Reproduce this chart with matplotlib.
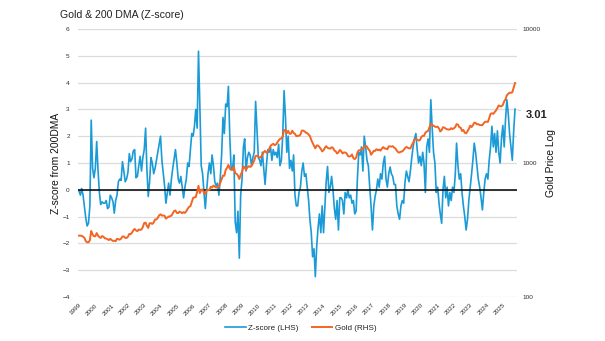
"""Gold & 200 DMA z-score chart
"""
import numpy as np
import pandas as pd
import matplotlib
matplotlib.use('Agg')
import matplotlib.pyplot as plt
from matplotlib.lines import Line2D

plt.rcParams['font.family'] = ['Liberation Sans', 'DejaVu Sans']

start_month = '1999-01-01'

# monthly z-score of gold vs its 200 day moving average
z_score = [
	-0.05, -0.2, 0.05, -0.2, -0.62, -1.05, -1.35, -1.25, -0.6, 2.6, 0.8, 0.45,
	0.8, 1.8, 0.75, -0.1, -0.55, -0.45, -0.5, -0.5, -0.4, -0.7, -0.65, -0.2,
	-0.3, -0.45, -0.87, -0.4, -0.2, 0.3, 0.4, 0.35, 1.05, 0.7, 0.3, 0.4,
	0.65, 1.35, 1.05, 1.15, 1.45, 1.5, 0.45, 0.5, 0.9, 1.25, 0.7, 1.2,
	1.5, 2.3, 0.8, -0.25, 0.3, 1.2, 1.0, 0.6, 0.8, 1.1, 1.4, 1.7,
	2.0, 1.1, 0.65, 0.15, -0.5, -0.12, 0.25, -0.2, 0.4, 0.8, 1.15, 1.5,
	1.0, 0.4, 0.25, 0.5, 0.1, -0.3, 0.1, 0.4, 1.0, 0.87, 1.5, 2.1,
	2.0, 2.4, 3.0, 2.3, 5.17, 3.1, 0.9, 0.6, -0.1, -0.7, 0.0, 0.6,
	1.0, 0.6, 1.3, 0.9, 0.3, 0.15, 0.25, -0.2, 0.45, 1.3, 2.7, 2.1,
	3.2, 3.1, 3.86, 2.0, 0.8, 0.75, 1.3, -1.2, -1.6, -0.8, -2.55, -0.2,
	0.4, 1.6, 1.9, 0.7, 1.2, 1.4, 1.3, 0.9, 1.2, 1.4, 3.3, 2.3,
	1.2, 1.1, 0.9, 1.4, 0.8, 0.2, 0.9, 1.5, 1.4, 1.6, 1.1, 1.5,
	1.3, 1.4, 1.2, 1.7, 0.9, 1.1, 2.0, 3.7, 2.7, 1.4, 2.0, 0.8,
	1.1, 0.7, 1.3, -0.2, -0.6, -0.6, -0.1, 0.1, 0.7, 1.0, 0.5, 0.6,
	0.1, -0.4, -1.1, -1.6, -2.5, -2.2, -3.24, -2.1, -1.4, -0.9, -1.6, -0.6,
	-1.6, -0.6, 0.3, 0.87, -0.1, 0.1, 0.5, 0.0, -0.7, -1.1, -0.4, -1.5,
	-0.3, -0.3, -0.4, -0.9, -0.1, -0.3, 0.0, -0.3, -0.2, -0.5, -0.4, -0.9,
	-0.8, 0.5, 1.4, 1.3, 1.6, 0.7, 2.0, 1.6, 1.1, 0.9, 0.1, -0.6,
	-1.5, -0.6, -0.25, 0.0, 0.4, 0.1, 0.6, 0.4, 1.0, 1.25, 0.4, 0.1,
	0.6, 0.85, 0.6, 0.5, 0.2, 0.2, -0.6, -0.9, -1.1, -0.6, -0.4, -0.5,
	0.3, 0.7, 0.5, 0.3, 0.7, 1.2, 1.6, 1.9, 2.1, 1.5, 1.0, 1.25,
	0.9, 1.4, 1.0, -0.1, 1.6, 1.9, 1.4, 3.36, 2.3, 1.4, 1.0, -0.1,
	0.1, -0.5, -0.9, -1.25, 0.0, 0.5, -0.3, 0.1, -0.6, -0.1, -0.4, 0.1,
	-0.1, 0.6, 1.74, 0.9, 0.4, 0.6, -0.1, -0.6, -1.0, -1.5, -1.1, -0.4,
	0.1, 0.6, 1.1, 1.74, 1.4, 0.9, 0.4, 0.1, -0.3, -0.75, -0.1, 0.4,
	0.6, 0.4, 1.1, 1.6, 2.37, 1.6, 2.1, 1.4, 2.2, 1.4, 1.0, 1.9,
	2.4, 1.6, 2.6, 3.36, 2.86, 2.1, 1.6, 1.1, 2.2, 3.01,
]

# monthly gold price, US$/oz
gold_price = [
	287, 287, 286, 282, 277, 261, 256, 256, 265, 311, 293, 284,
	284, 300, 287, 280, 276, 285, 282, 274, 273, 270, 266, 272,
	266, 262, 263, 261, 272, 270, 268, 273, 283, 283, 276, 276,
	282, 296, 294, 302, 314, 322, 314, 310, 319, 317, 319, 333,
	357, 359, 340, 328, 355, 356, 351, 360, 379, 379, 390, 407,
	414, 405, 406, 404, 384, 392, 398, 400, 405, 420, 439, 442,
	424, 423, 434, 429, 422, 430, 424, 437, 456, 470, 476, 510,
	549, 555, 557, 610, 676, 596, 633, 632, 598, 585, 627, 629,
	631, 665, 655, 679, 667, 655, 665, 665, 712, 754, 806, 803,
	889, 922, 968, 909, 888, 889, 939, 839, 829, 806, 760, 816,
	858, 943, 924, 890, 928, 946, 934, 949, 996, 1043, 1127, 1134,
	1117, 1095, 1113, 1148, 1205, 1232, 1193, 1215, 1271, 1343, 1370, 1391,
	1360, 1374, 1424, 1474, 1512, 1529, 1572, 1759, 1772, 1665, 1739, 1652,
	1656, 1742, 1674, 1650, 1585, 1596, 1594, 1630, 1744, 1747, 1722, 1684,
	1671, 1627, 1593, 1485, 1414, 1343, 1286, 1352, 1349, 1316, 1275, 1221,
	1244, 1300, 1336, 1299, 1287, 1279, 1311, 1296, 1238, 1222, 1176, 1200,
	1251, 1227, 1179, 1198, 1199, 1181, 1129, 1117, 1125, 1157, 1085, 1068,
	1097, 1199, 1246, 1242, 1260, 1276, 1337, 1341, 1326, 1267, 1236, 1152,
	1192, 1234, 1231, 1267, 1246, 1260, 1236, 1283, 1315, 1280, 1283, 1265,
	1331, 1331, 1325, 1335, 1303, 1282, 1238, 1202, 1198, 1215, 1221, 1250,
	1291, 1320, 1300, 1286, 1284, 1359, 1413, 1500, 1510, 1495, 1471, 1480,
	1560, 1597, 1592, 1683, 1716, 1732, 1846, 1968, 1921, 1900, 1866, 1858,
	1867, 1808, 1718, 1760, 1850, 1834, 1807, 1785, 1776, 1777, 1821, 1790,
	1817, 1856, 1948, 1937, 1849, 1836, 1733, 1765, 1681, 1665, 1726, 1798,
	1898, 1854, 1912, 2000, 1992, 1943, 1951, 1918, 1916, 1916, 1985, 2030,
	2033, 2024, 2160, 2330, 2350, 2325, 2395, 2470, 2570, 2690, 2650, 2650,
	2710, 2890, 2980, 3200, 3280, 3350, 3340, 3370, 3660, 3950,
]

year_ticks = list(range(1999, 2026))
z_ticks = list(range(-4, 7))
gold_ticks = [100, 1000, 10000]

blue = '#1a9bd7'
orange = '#f26522'
tick_color = '#2e2e2e'


def main():
	dates = pd.date_range(start_month, periods=len(z_score), freq='MS')

	fig = plt.figure(figsize=(6.05, 3.41), dpi=100)
	fig.patch.set_facecolor('white')
	ax = fig.add_axes([0.129, 0.129, 0.7256, 0.786])
	ax2 = ax.twinx()

	ax.plot(dates, z_score, color=blue, linewidth=1.2, zorder=2)
	ax.axhline(0, color='black', linewidth=1.1, zorder=3)
	ax2.plot(dates, gold_price, color=orange, linewidth=1.4, zorder=2)

	ax.set_ylim(-4, 6)
	ax.set_yticks(z_ticks)
	ax.grid(axis='y', color='#dcdcdc', linewidth=0.9, zorder=0)
	ax.set_axisbelow(True)

	ax2.set_yscale('log')
	ax2.set_ylim(100, 10000)
	ax2.set_yticks(gold_ticks)
	ax2.set_yticklabels([str(t) for t in gold_ticks])
	ax2.minorticks_off()

	ax.set_xlim(pd.Timestamp('1998-12-10'), pd.Timestamp('2025-11-15'))
	ax.set_xticks([pd.Timestamp('{}-01-01'.format(y)) for y in year_ticks])
	ax.set_xticklabels([str(y) for y in year_ticks], rotation=45, ha='right',
		rotation_mode='anchor', fontsize=4.6, color=tick_color)

	for a in (ax, ax2):
		for s in a.spines.values():
			s.set_visible(False)
		a.tick_params(length=0, labelsize=4.6, labelcolor=tick_color)
	ax.tick_params(axis='y', pad=6)
	ax.tick_params(axis='x', pad=4)
	ax2.tick_params(axis='y', pad=4)

	ax.set_ylabel('Z-score from 200DMA', fontsize=7.4, color='#111111', labelpad=1)
	ax2.set_ylabel('Gold Price Log', fontsize=7.4, color='#111111', labelpad=4)

	# last value callout
	ax.annotate('{:.2f}'.format(z_score[-1]),
		xy=(dates[-1], z_score[-1]),
		xytext=(11, -6), textcoords='offset pixels',
		ha='left', va='center', fontsize=8, fontweight='bold', color='#222222',
		arrowprops=dict(arrowstyle='-', color='#c0c0c0', linewidth=0.6),
		annotation_clip=False
	)

	fig.text(60 / 605, 1 - 15 / 341, 'Gold & 200 DMA (Z-score)',
		fontsize=7.6, color='#222222', ha='left', va='center')

	handles = [Line2D([], [], color=blue, linewidth=1.2),
		Line2D([], [], color=orange, linewidth=1.4)]
	fig.legend(handles, ['Z-score (LHS)', 'Gold (RHS)'],
		loc='center', bbox_to_anchor=(0.497, 1 - 328 / 341), ncol=2,
		frameon=False, fontsize=5.8, handlelength=2.6, handletextpad=0.3,
		columnspacing=1.6, labelcolor='#222222')

	plt.savefig('out.png', dpi=100)
	plt.close()


if __name__ == '__main__':
	main()
